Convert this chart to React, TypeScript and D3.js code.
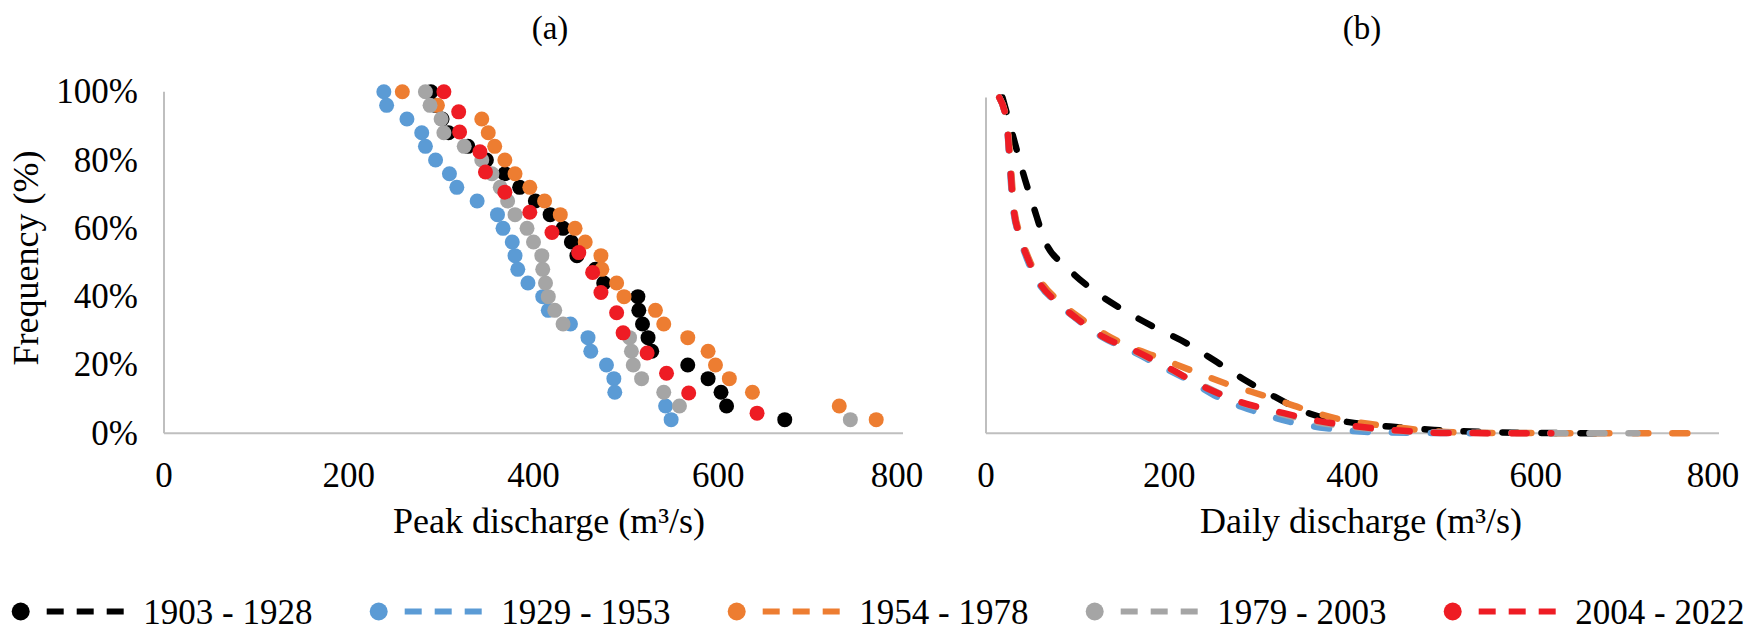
import { line, curveMonotoneX, scaleLinear } from "d3";

// legend / series labels
const periods = ["1903 - 1928", "1929 - 1953", "1954 - 1978", "1979 - 2003", "2004 - 2022"];
const colors = ["#000000", "#5B9BD5", "#ED7D31", "#A5A5A5", "#EE1C24"];

// (a) peak discharge (m3/s), sorted, with plotting frequency (%)
const freq25 = [100, 96, 92, 88, 84, 80, 76, 72, 68, 64, 60, 56, 52, 48, 44, 40, 36, 32, 28, 24, 20, 16, 12, 8, 4];
const freq17 = [100, 94.1, 88.2, 82.4, 76.5, 70.6, 64.7, 58.8, 52.9, 47.1, 41.2, 35.3, 29.4, 23.5, 17.6, 11.8, 5.9];
const peak1903 = [289, 294, 301, 308, 329, 349, 369, 385, 402, 418, 432, 441, 447, 467, 476, 513, 514, 518, 524, 528, 567, 589, 603, 609, 672];
const peak1929 = [238, 241, 263, 279, 283, 294, 309, 317, 339, 361, 367, 377, 380, 383, 394, 410, 416, 440, 459, 462, 479, 487, 488, 543, 549];
const peak1954 = [258, 296, 344, 351, 358, 369, 380, 396, 412, 429, 445, 456, 473, 474, 490, 498, 532, 541, 567, 589, 597, 612, 637, 731, 771];
const peak1979 = [283, 288, 300, 303, 325, 344, 355, 364, 372, 380, 393, 400, 409, 410, 413, 416, 423, 432, 504, 506, 508, 517, 541, 558, 743];
const peak2004 = [303, 319, 320, 342, 348, 369, 396, 420, 449, 464, 473, 490, 497, 523, 544, 568, 642];

// (b) daily discharge duration curves (discharge m3/s, frequency %)
const dailyQ1903 = [18, 30, 40, 52, 64, 88, 117, 150, 183, 219, 252, 283, 315, 353, 394, 441, 489, 558, 669];
const dailyF1903 = [100, 88, 78, 67.4, 57.5, 49.5, 42.6, 36.7, 31.7, 26.8, 21.2, 15.8, 10.9, 5.9, 3.4, 2, 1, 0.3, 0];
const dailyQ1929 = [14.5, 22.7, 25.8, 29.4, 36.7, 45.4, 57.8, 76.4, 98.1, 127, 159, 195, 223, 252, 295, 332, 372, 419, 529];
const dailyF1929 = [100, 92.2, 80.3, 67.4, 58.5, 51.5, 44.6, 39.1, 34.2, 28.6, 24.5, 19.4, 15.5, 10.9, 6.4, 3.4, 1.5, 0.4, 0];
const dailyQ1954 = [14.5, 23.2, 26.9, 30.5, 38.2, 47.5, 60.9, 79.5, 102, 132, 155, 186, 228, 266, 307, 345, 381, 427, 474, 521, 620, 771];
const dailyF1954 = [100, 92.2, 80.3, 67.4, 58.5, 51.5, 44.8, 39.4, 34.5, 29.2, 26, 22.8, 18.3, 14.4, 10.9, 7.4, 4.5, 2.5, 1, 0.2, 0.05, 0];
const dailyQ1979 = [14.5, 22.7, 26.3, 29.9, 37.2, 46.5, 58.9, 77.5, 99.1, 128, 161, 197, 239, 277, 316, 357, 403, 449, 506, 599, 711];
const dailyF1979 = [100, 92.2, 80.3, 67.4, 58.5, 51.5, 44.6, 39.1, 34.2, 28.7, 24.6, 19.6, 13.9, 9.3, 6.2, 3.5, 1.8, 0.7, 0.2, 0.05, 0];
const dailyQ2004 = [14.5, 22.7, 26.2, 29.9, 37.2, 46.5, 58.9, 77.5, 99.1, 128, 161, 197, 241, 277, 319, 362, 406, 452, 503, 617];
const dailyF2004 = [100, 92.2, 80.3, 67.4, 58.5, 51.5, 44.6, 39.1, 34.2, 28.7, 24.8, 19.8, 13.4, 9.4, 6.4, 3.7, 2.0, 0.8, 0.1, 0];

const xTicks = [0, 200, 400, 600, 800];
const yTicks = [0, 20, 40, 60, 80, 100];

const peakSeries = [
  { q: peak1903, f: freq25 },
  { q: peak1929, f: freq25 },
  { q: peak1954, f: freq25 },
  { q: peak1979, f: freq25 },
  { q: peak2004, f: freq17 },
];
const dailySeries = [
  { q: dailyQ1903, f: dailyF1903 },
  { q: dailyQ1929, f: dailyF1929 },
  { q: dailyQ1954, f: dailyF1954 },
  { q: dailyQ1979, f: dailyF1979 },
  { q: dailyQ2004, f: dailyF2004 },
];

const W = 1755;
const H = 643;
const FONT = "'Liberation Serif', 'Times New Roman', serif";
const axisColor = "#BFBFBF";

export default function App() {
  const xL = scaleLinear().domain([0, 800]).range([164, 903]);
  const yL = scaleLinear().domain([0, 100]).range([433.3, 91.7]);
  const xR = scaleLinear().domain([0, 800]).range([986, 1719]);
  const yR = scaleLinear().domain([0, 100]).range([433.3, 97.5]);

  const path = line<[number, number]>()
    .x((d) => xR(d[0]))
    .y((d) => yR(d[1]))
    .curve(curveMonotoneX);

  // last label sits a little inside the axis end, as in the original
  const xLabels = (x: typeof xL) =>
    xTicks.map((v, i) => (
      <text key={v} x={x(v) - (i === xTicks.length - 1 ? 6 : 0)} y={486.5} textAnchor="middle" fontSize={35}>
        {v}
      </text>
    ));

  return (
    <svg
      width={W}
      height={H}
      viewBox={`0 0 ${W} ${H}`}
      style={{ position: "absolute", left: 0, top: 0, background: "#fff" }}
      fontFamily={FONT}
      fill="#000"
    >
      {/* panel (a) */}
      <text x={550} y={39} textAnchor="middle" fontSize={33}>(a)</text>
      <line x1={xL(0)} x2={xL(0)} y1={yL(100)} y2={yL(0)} stroke={axisColor} strokeWidth={2} />
      <line x1={xL(0)} x2={xL(800)} y1={yL(0)} y2={yL(0)} stroke={axisColor} strokeWidth={2} />
      {yTicks.map((v) => (
        <text key={v} x={138} y={yL(v) + 11.5} textAnchor="end" fontSize={35}>
          {v}%
        </text>
      ))}
      {xLabels(xL)}
      <text transform={`translate(38,258) rotate(-90)`} textAnchor="middle" fontSize={36}>
        Frequency (%)
      </text>
      <text x={549} y={533} textAnchor="middle" fontSize={36}>
        Peak discharge (m³/s)
      </text>
      {peakSeries.map((s, i) => (
        <g key={i} fill={colors[i]}>
          {s.q.map((q, j) => (
            <circle key={j} cx={xL(q)} cy={yL(s.f[j])} r={7.5} />
          ))}
        </g>
      ))}

      {/* panel (b) */}
      <text x={1362} y={39} textAnchor="middle" fontSize={33}>(b)</text>
      <line x1={xR(0)} x2={xR(0)} y1={yR(100)} y2={yR(0)} stroke={axisColor} strokeWidth={2} />
      <line x1={xR(0)} x2={xR(800)} y1={yR(0)} y2={yR(0)} stroke={axisColor} strokeWidth={2} />
      {xLabels(xR)}
      <text x={1361} y={533} textAnchor="middle" fontSize={36}>
        Daily discharge (m³/s)
      </text>
      {dailySeries.map((s, i) => (
        <path
          key={i}
          d={path(s.q.map((q, j) => [q, s.f[j]] as [number, number])) ?? ""}
          fill="none"
          stroke={colors[i]}
          strokeWidth={6.5}
          strokeDasharray="15 24"
          strokeLinecap="round"
        />
      ))}

      {/* legend */}
      {periods.map((p, i) => {
        const x0 = 20.7 + i * 358;
        return (
          <g key={p}>
            <circle cx={x0} cy={611.5} r={9} fill={colors[i]} />
            <line
              x1={x0 + 26}
              x2={x0 + 103}
              y1={611.5}
              y2={611.5}
              stroke={colors[i]}
              strokeWidth={6}
              strokeDasharray="17 13"
            />
            <text x={x0 + 122.6} y={623.5} fontSize={35}>
              {p}
            </text>
          </g>
        );
      })}
    </svg>
  );
}
